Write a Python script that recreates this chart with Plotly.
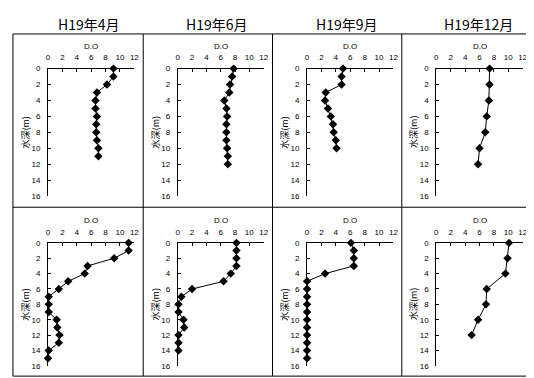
import plotly.graph_objects as go

# ---- data ----
headers = ["H19年4月", "H19年6月", "H19年9月", "H19年12月"]

depth_apr_top = [0, 1, 2, 3, 4, 5, 6, 7, 8, 9, 10, 11]
do_apr_top = [9.1, 9.1, 8.2, 6.8, 6.6, 6.6, 6.8, 6.7, 6.7, 6.8, 7.0, 7.0]

depth_jun_top = [0, 1, 2, 3, 4, 5, 6, 7, 8, 9, 10, 11, 12]
do_jun_top = [7.8, 7.6, 7.3, 7.2, 6.5, 6.8, 6.9, 6.8, 6.8, 6.8, 6.9, 7.0, 7.0]

depth_sep_top = [0, 1, 2, 3, 4, 5, 6, 7, 8, 9, 10]
do_sep_top = [5.0, 4.8, 4.8, 2.6, 2.5, 2.9, 3.3, 3.6, 3.7, 4.0, 4.1]

depth_dec_top = [0, 2, 4, 6, 8, 10, 12]
do_dec_top = [7.4, 7.4, 7.3, 7.0, 6.8, 6.0, 5.8]

depth_apr_bot = [0, 1, 2, 3, 4, 5, 6, 7, 8, 9, 10, 11, 12, 13, 14, 15]
do_apr_bot = [11.2, 11.2, 9.2, 5.5, 5.1, 2.8, 1.5, 0.1, 0.1, 0.1, 1.2, 1.3, 1.6, 1.5, 0.1, 0.0]

depth_jun_bot = [0, 1, 2, 3, 4, 5, 6, 7, 8, 9, 10, 11, 12, 13, 14]
do_jun_bot = [8.2, 8.2, 8.2, 8.2, 7.4, 6.4, 2.0, 0.5, 0.1, 0.1, 0.8, 0.9, 0.1, 0.1, 0.1]

depth_sep_bot = [0, 1, 2, 3, 4, 5, 6, 7, 8, 9, 10, 11, 12, 13, 14, 15]
do_sep_bot = [6.1, 6.5, 6.5, 6.5, 2.5, 0.0, 0.0, 0.0, 0.0, 0.0, 0.0, 0.0, 0.0, 0.0, 0.0, 0.0]

depth_dec_bot = [0, 2, 4, 6, 8, 10, 12]
do_dec_bot = [10.1, 9.9, 9.6, 7.0, 6.9, 5.8, 4.9]

x_tickvals = [0, 2, 4, 6, 8, 10, 12]
y_tickvals = [0, 2, 4, 6, 8, 10, 12, 14, 16]
x_title = "D.O"
y_title = "水深(m)"

panels = [
    (depth_apr_top, do_apr_top), (depth_jun_top, do_jun_top),
    (depth_sep_top, do_sep_top), (depth_dec_top, do_dec_top),
    (depth_apr_bot, do_apr_bot), (depth_jun_bot, do_jun_bot),
    (depth_sep_bot, do_sep_bot), (depth_dec_bot, do_dec_bot),
]

# ---- layout (pixels) ----
W, H = 534, 378
col_x = [(38.5, 126), (170, 257), (301, 388.5), (432, 519.5)]
row_y = [(58, 188.5), (236.5, 362.5)]
col_borders = [3, 135, 266, 397, 532]
row_borders = [22.5, 200, 373]

def px_x(v):
    return v / W

def px_y(v):
    return 1 - v / H

fig = go.Figure()
tick_font = dict(family="Liberation Sans, Arial, sans-serif", size=8, color="black")
layout = dict(
    width=W, height=H, margin=dict(l=0, r=0, t=0, b=0),
    paper_bgcolor="white", plot_bgcolor="white", showlegend=False,
)
annotations = []
shapes = []

for i, (dep, do) in enumerate(panels):
    r, c = divmod(i, 4)
    n = i + 1
    xa = "x" if n == 1 else f"x{n}"
    ya = "y" if n == 1 else f"y{n}"
    fig.add_trace(go.Scatter(
        x=do, y=dep, xaxis=xa, yaxis=ya, mode="lines+markers",
        line=dict(color="black", width=1),
        marker=dict(symbol="diamond", size=6.5, color="black"),
        cliponaxis=False,
    ))
    x0, x1 = col_x[c]
    y0, y1 = row_y[r]
    layout[f"xaxis{'' if n == 1 else n}"] = dict(
        domain=[px_x(x0), px_x(x1)], anchor=ya, side="top", range=[0, 12],
        tickvals=x_tickvals, ticks="inside", ticklen=3, tickcolor="black",
        showline=True, linecolor="black", linewidth=1, showgrid=False,
        zeroline=False, tickfont=tick_font, ticklabelstandoff=4,
    )
    layout[f"yaxis{'' if n == 1 else n}"] = dict(
        domain=[px_y(y1), px_y(y0)], anchor=xa, range=[16, 0],
        tickvals=y_tickvals, ticks="inside", ticklen=3, tickcolor="black",
        showline=True, linecolor="black", linewidth=1, showgrid=False,
        zeroline=False, tickfont=tick_font, ticklabelstandoff=5,
    )
    annotations.append(dict(
        text=x_title, x=px_x((x0 + x1) / 2), y=px_y(y0 - 23), xref="paper",
        yref="paper", showarrow=False, xanchor="center", yanchor="middle",
        font=dict(family="Liberation Sans, Arial, sans-serif", size=8, color="black"),
    ))
    annotations.append(dict(
        text=y_title, x=px_x(x0 - 23), y=px_y((y0 + y1) / 2), xref="paper",
        yref="paper", showarrow=False, textangle=-90, xanchor="center",
        yanchor="middle",
        font=dict(family="Noto Sans CJK JP, sans-serif", size=9, color="black"),
    ))

header_cx = [80, 210, 341, 475]
for h, cx in zip(headers, header_cx):
    annotations.append(dict(
        text=h, x=px_x(cx), y=px_y(12), xref="paper", yref="paper",
        showarrow=False, xanchor="center", yanchor="middle",
        font=dict(family="Noto Sans CJK JP, sans-serif", size=14, color="black"),
    ))

for xb in col_borders:
    shapes.append(dict(type="line", xref="paper", yref="paper",
                       x0=px_x(xb), x1=px_x(xb), y0=px_y(row_borders[0]),
                       y1=px_y(row_borders[-1]), line=dict(color="black", width=1)))
for yb in row_borders:
    shapes.append(dict(type="line", xref="paper", yref="paper",
                       x0=px_x(col_borders[0]), x1=px_x(col_borders[-1]),
                       y0=px_y(yb), y1=px_y(yb), line=dict(color="black", width=1)))

layout["annotations"] = annotations
layout["shapes"] = shapes
fig.update_layout(**layout)
fig.write_html("out.html")
